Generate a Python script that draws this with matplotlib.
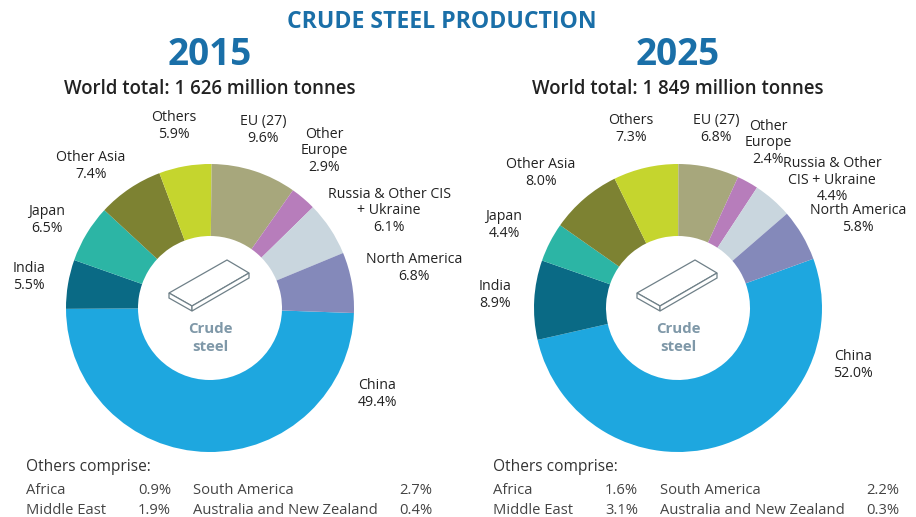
import matplotlib
matplotlib.use("Agg")
import matplotlib.pyplot as plt
from matplotlib.patches import Polygon

plt.rcParams['font.family'] = ['Open Sans', 'DejaVu Sans']

segments = ["China", "India", "Japan", "Other Asia", "Others", "EU (27)", "Other Europe", "Russia", "North America"]
colors = ["#1ea7df", "#0a6a85", "#2cb5a5", "#7d8232", "#c5d52e", "#a7a77c", "#b77dbb", "#c9d6de", "#8489ba"]
vals_2015 = [49.4, 5.5, 6.5, 7.4, 5.9, 9.6, 2.9, 6.1, 6.8]
vals_2025 = [52.0, 8.9, 4.4, 8.0, 7.3, 6.8, 2.4, 4.4, 5.8]

labels_2015 = ["China\n49.4%", "India\n5.5%", "Japan\n6.5%", "Other Asia\n7.4%", "Others\n5.9%", "EU (27)\n9.6%",
               "Other\nEurope\n2.9%", "Russia & Other CIS\n+ Ukraine\n6.1%", "North America\n6.8%"]
labels_2025 = ["China\n52.0%", "India\n8.9%", "Japan\n4.4%", "Other Asia\n8.0%", "Others\n7.3%", "EU (27)\n6.8%",
               "Other\nEurope\n2.4%", "Russia & Other\nCIS + Ukraine\n4.4%", "North America\n5.8%"]
others_2015 = [("Africa", "0.9%", "South America", "2.7%"), ("Middle East", "1.9%", "Australia and New Zealand", "0.4%")]
others_2025 = [("Africa", "1.6%", "South America", "2.2%"), ("Middle East", "3.1%", "Australia and New Zealand", "0.3%")]

W, H = 916, 517
fig = plt.figure(figsize=(W / 100, H / 100), dpi=100)
bg = fig.add_axes([0, 0, 1, 1])
bg.set_xlim(0, W)
bg.set_ylim(H, 0)
bg.axis("off")

bg.text(442, 22, "CRUDE STEEL PRODUCTION", color="#1a6fa8", fontsize=16.6, fontweight="bold", ha="center", va="center")


def donut(vals, labels, others, cx, year, start, label_pos, table_x):
    cy = 308
    r = 144
    ax = fig.add_axes([(cx - r) / W, 1 - (cy + r) / H, 2 * r / W, 2 * r / H])
    # China starts near the right of the ring and runs clockwise
    ax.pie(vals, colors=colors, startangle=start, counterclock=False, radius=1,
           wedgeprops=dict(width=1 - 72 / 144, edgecolor="none"))
    ax.set_xlim(-1, 1)
    ax.set_ylim(-1, 1)
    bg.text(cx, 55, year, color="#1a6fa8", fontsize=26.6, fontweight="bold", ha="center", va="center")
    bg.text(cx, 89, "World total: " + ("1 626" if year == "2015" else "1 849") + " million tonnes",
            color="#222222", fontsize=13.4, fontweight="semibold", ha="center", va="center")
    for text, (x, y) in zip(labels, label_pos):
        bg.text(x, y, text, color="#222222", fontsize=10.2, ha="center", va="center", linespacing=1.13)
    # steel slab icon in the hole
    ox = cx - 210
    top = [(ox + 169, 293), (ox + 227, 260), (ox + 249, 273), (ox + 192, 306)]
    side = [(ox + 169, 293), (ox + 192, 306), (ox + 192, 311), (ox + 169, 298)]
    end = [(ox + 192, 306), (ox + 249, 273), (ox + 249, 278), (ox + 192, 311)]
    for pts in (top, side, end):
        bg.add_patch(Polygon(pts, closed=True, facecolor="white", edgecolor="#6f8088", linewidth=0.9, zorder=5))
    bg.text(cx, 338, "Crude\nsteel", color="#7f98a8", fontsize=10.8, fontweight="bold", ha="center", va="center", linespacing=1.4)
    bg.text(table_x, 467, "Others comprise:", color="#333333", fontsize=11.2, ha="left", va="center")
    for row, y in zip(others, (491, 510)):
        bg.text(table_x, y, row[0], color="#444444", fontsize=10.6, va="center")
        bg.text(table_x + 145, y, row[1], color="#444444", fontsize=10.6, va="center", ha="right")
        bg.text(table_x + 167, y, row[2], color="#444444", fontsize=10.6, va="center")
        bg.text(table_x + 406, y, row[3], color="#444444", fontsize=10.6, va="center", ha="right")


pos_2015 = [(377, 394), (29, 277), (47, 220), (91, 166), (174, 126), (263, 130), (324, 151), (389, 211), (414, 268)]
pos_2025 = [(853, 365), (495, 295), (504, 225), (541, 173), (631, 129), (716, 129), (768, 143), (832, 180), (858, 219)]
donut(vals_2015, labels_2015, others_2015, 210, "2015", -2, pos_2015, 26)
donut(vals_2025, labels_2025, others_2025, 678, "2025", 20, pos_2025, 493)
bg.set_zorder(3)
bg.patch.set_alpha(0)

fig.savefig("out.png", dpi=100)
